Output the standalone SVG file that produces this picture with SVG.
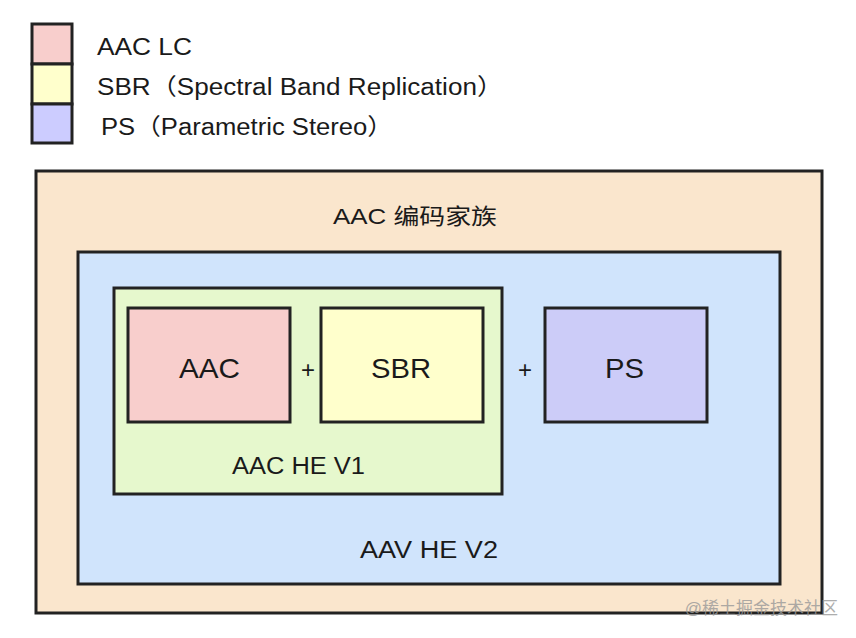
<svg xmlns="http://www.w3.org/2000/svg" width="856" height="638" viewBox="0 0 856 638">
<style>
.b{stroke:#222;stroke-width:3}
.t{font-family:"Liberation Sans","Noto Sans CJK SC",sans-serif;fill:#1a1a1a}
</style>
<rect width="856" height="638" fill="#fff"/>
<g id="legend">
<rect class="b" x="32" y="24" width="40" height="40" fill="#f8cecc"/>
<rect class="b" x="32" y="64" width="40" height="40" fill="#ffffcc"/>
<rect class="b" x="32" y="104" width="40" height="39" fill="#ccccff"/>
<text class="t" x="97" y="55" font-size="23" textLength="95" lengthAdjust="spacingAndGlyphs">AAC LC</text>
<text class="t" x="97" y="95" font-size="23" textLength="406" lengthAdjust="spacingAndGlyphs">SBR（Spectral Band Replication）</text>
<text class="t" x="101" y="135" font-size="23" textLength="292" lengthAdjust="spacingAndGlyphs">PS（Parametric Stereo）</text>
</g>
<g id="family">
<rect class="b" x="36" y="171" width="786" height="442" fill="#fae6cd"/>
<text class="t" x="333" y="224" font-size="22" textLength="164" lengthAdjust="spacingAndGlyphs">AAC 编码家族</text>
</g>
<g id="hev2">
<rect class="b" x="78" y="252" width="702" height="332" fill="#d0e4fc"/>
<text class="t" x="360" y="558" font-size="23" textLength="138" lengthAdjust="spacingAndGlyphs">AAV HE V2</text>
</g>
<g id="hev1">
<rect class="b" x="114" y="288" width="388" height="206" fill="#e6f8cd"/>
<text class="t" x="232" y="474" font-size="23" textLength="133" lengthAdjust="spacingAndGlyphs">AAC HE V1</text>
</g>
<g id="aac">
<rect class="b" x="128" y="308" width="162" height="114" fill="#f8cecc"/>
<text class="t" x="179" y="378" font-size="28" textLength="61" lengthAdjust="spacingAndGlyphs">AAC</text>
</g>
<g id="sbr">
<rect class="b" x="321" y="308" width="162" height="114" fill="#ffffcc"/>
<text class="t" x="371" y="378" font-size="28" textLength="60" lengthAdjust="spacingAndGlyphs">SBR</text>
</g>
<g id="ps">
<rect class="b" x="545" y="308" width="162" height="114" fill="#ccccf8"/>
<text class="t" x="605" y="378" font-size="28" textLength="39" lengthAdjust="spacingAndGlyphs">PS</text>
</g>
<g id="connectors">
<text class="t" x="308" y="378" font-size="24" text-anchor="middle">+</text>
<text class="t" x="525" y="378" font-size="24" text-anchor="middle">+</text>
</g>
<text x="838" y="614" font-size="17" text-anchor="end" font-family="Liberation Sans,Noto Sans CJK SC,sans-serif" fill="#999" opacity="0.8">@稀土掘金技术社区</text>
</svg>
